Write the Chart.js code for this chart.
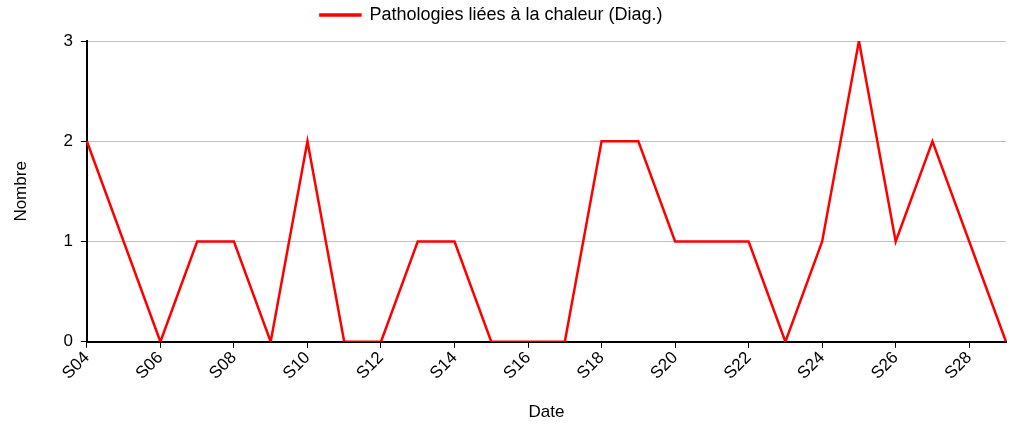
<!DOCTYPE html>
<html>
<head>
  <title>Pathologies liées à la chaleur</title>
  <script src="https://cdn.jsdelivr.net/npm/chart.js@4.4.1/dist/chart.umd.min.js"></script>
  <style>
    body { margin: 0; padding: 0; overflow: hidden; background: #fff; }
    .chart-container { width: 1015px; height: 427px; }
  </style>
</head>
<body>
  <div class="chart-container">
    <canvas id="chaleurChart"></canvas>
  </div>

  <script>
    // Weeks S04 .. S29
    const weeks = ['S04', 'S05', 'S06', 'S07', 'S08', 'S09', 'S10', 'S11', 'S12', 'S13',
                   'S14', 'S15', 'S16', 'S17', 'S18', 'S19', 'S20', 'S21', 'S22', 'S23',
                   'S24', 'S25', 'S26', 'S27', 'S28', 'S29'];
    const diagnostics = [2, 1, 0, 1, 1, 0, 2, 0, 0, 1,
                         1, 0, 0, 0, 2, 2, 1, 1, 1, 0,
                         1, 3, 1, 2, 1, 0];
    const yTicks = [0, 1, 2, 3];

    const font = { family: 'Liberation Sans, Arial, sans-serif', size: 17 };

    // nudge the legend a bit up and to the left, like the original
    const legendShift = {
      id: 'legendShift',
      afterLayout(chart) {
        const lg = chart.legend;
        if (!lg) return;
        lg.left -= 15; lg.right -= 15;
        lg.top -= 7; lg.bottom -= 7;
      }
    };

    const ctx = document.getElementById('chaleurChart').getContext('2d');
    new Chart(ctx, {
      type: 'line',
      data: {
        labels: weeks,
        datasets: [{
          label: 'Pathologies liées à la chaleur (Diag.)',
          data: diagnostics,
          borderColor: '#ff0000',
          backgroundColor: '#ff0000',
          borderWidth: 2.5,
          pointRadius: 0,
          tension: 0
        }]
      },
      options: {
        responsive: true,
        maintainAspectRatio: false,
        animation: false,
        layout: { padding: { left: 7, right: 9, top: 0, bottom: 0 } },
        plugins: {
          legend: {
            display: true,
            position: 'top',
            labels: {
              color: '#000',
              font: { family: font.family, size: 18 },
              boxWidth: 40,
              boxHeight: 1,
              padding: 13
            }
          },
          tooltip: { enabled: false }
        },
        scales: {
          x: {
            offset: false,
            grid: {
              display: true,
              drawOnChartArea: false,
              tickColor: '#000',
              tickLength: 6
            },
            border: { color: '#000', width: 2 },
            ticks: {
              color: '#000',
              font: font,
              padding: 0,
              autoSkip: false,
              maxRotation: 45,
              minRotation: 45,
              callback: function (value, index) {
                return index % 2 === 0 ? weeks[index] : null;
              }
            },
            title: { display: true, text: 'Date', color: '#000', font: font, padding: { top: 19 } }
          },
          y: {
            min: 0,
            max: 3,
            afterBuildTicks: function (axis) {
              axis.ticks = yTicks.map(v => ({ value: v }));
            },
            grid: {
              color: '#c0c0c0',
              tickColor: '#000',
              tickLength: 6
            },
            border: { color: '#000', width: 2 },
            ticks: { color: '#000', font: font, padding: 8 },
            title: { display: true, text: 'Nombre', color: '#000', font: font, padding: { bottom: 24 } }
          }
        }
      },
      plugins: [legendShift]
    });
  </script>
</body>
</html>
